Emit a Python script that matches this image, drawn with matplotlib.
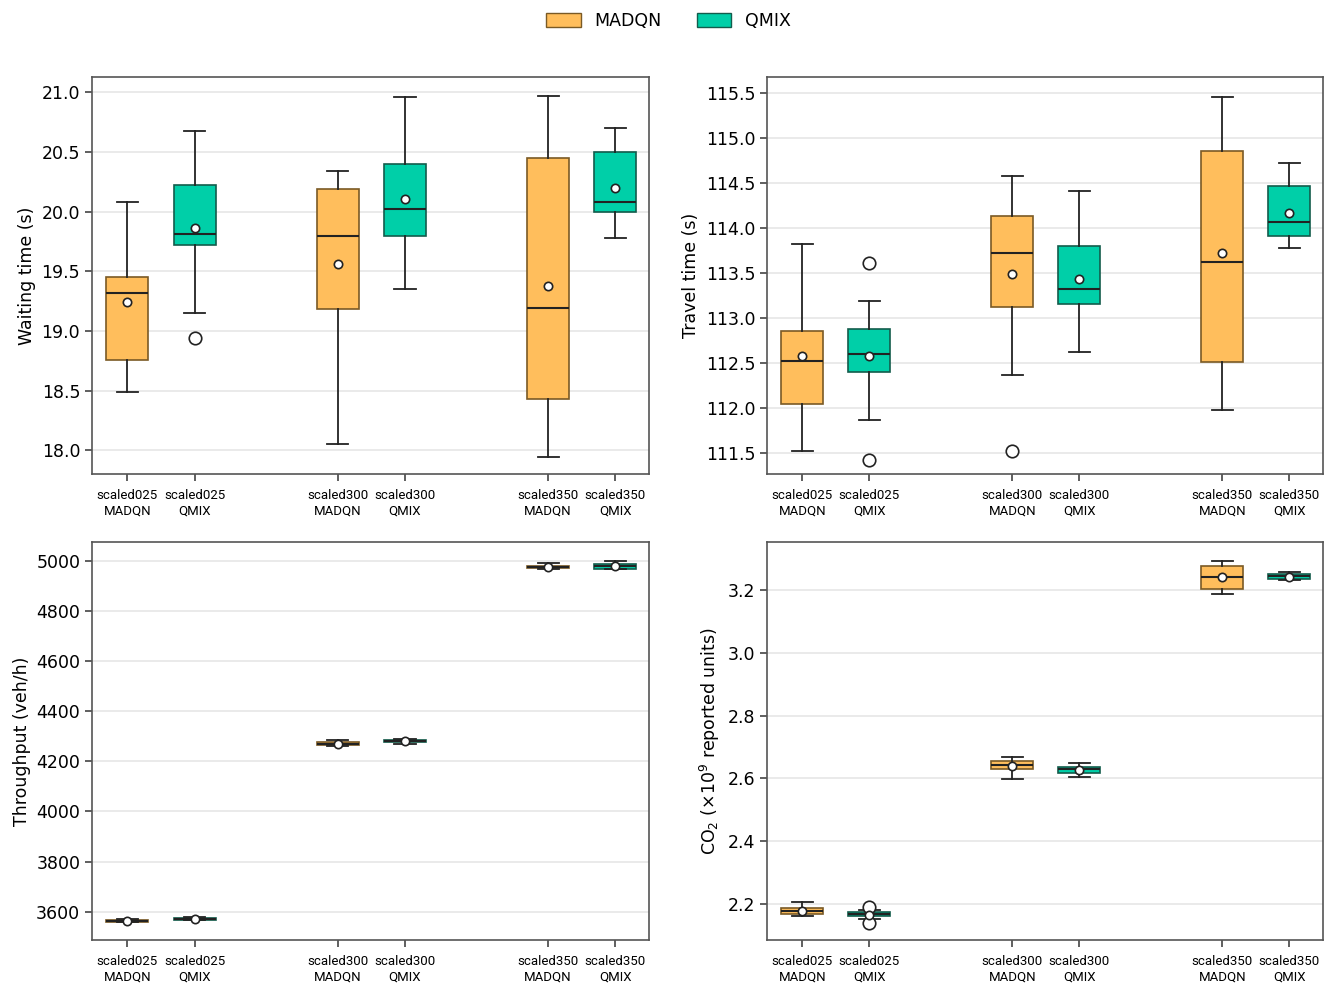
import numpy as np
import matplotlib
matplotlib.use("Agg")
import matplotlib.pyplot as plt
from matplotlib.patches import Patch

# box order: scaled025 MADQN, scaled025 QMIX, scaled300 MADQN, scaled300 QMIX, scaled350 MADQN, scaled350 QMIX
scenarios = ["scaled025", "scaled300", "scaled350"]
methods = ["MADQN", "QMIX"]

# waiting time (s)
wait_lo = [18.49, 19.15, 18.05, 19.35, 17.94, 19.78]
wait_q1 = [18.76, 19.72, 19.18, 19.80, 18.43, 20.00]
wait_med = [19.32, 19.81, 19.80, 20.02, 19.19, 20.08]
wait_q3 = [19.45, 20.22, 20.19, 20.40, 20.45, 20.50]
wait_hi = [20.08, 20.68, 20.34, 20.96, 20.97, 20.70]
wait_mean = [19.24, 19.86, 19.56, 20.11, 19.38, 20.20]
wait_fliers = [[], [18.94], [], [], [], []]

# travel time (s)
travel_lo = [111.53, 111.87, 112.37, 112.62, 111.98, 113.78]
travel_q1 = [112.05, 112.40, 113.13, 113.16, 112.51, 113.91]
travel_med = [112.53, 112.60, 113.73, 113.32, 113.62, 114.07]
travel_q3 = [112.86, 112.88, 114.14, 113.80, 114.86, 114.47]
travel_hi = [113.83, 113.19, 114.58, 114.41, 115.46, 114.73]
travel_mean = [112.58, 112.58, 113.49, 113.44, 113.72, 114.17]
travel_fliers = [[], [113.61, 111.43], [111.53], [], [], []]

# throughput (veh/h)
thr_lo = [3558, 3565, 4262, 4270, 4967, 4965]
thr_q1 = [3560, 3568, 4265, 4276, 4970, 4967]
thr_med = [3563, 3571, 4270, 4281, 4974, 4978]
thr_q3 = [3567, 3575, 4275, 4285, 4978, 4986]
thr_hi = [3570, 3578, 4283, 4290, 4990, 5000]
thr_mean = [3563, 3570, 4270, 4281, 4975, 4979]
thr_fliers = [[], [], [], [], [], []]

# CO2 (x1e9 reported units)
co2_lo = [2.160, 2.151, 2.598, 2.606, 3.189, 3.232]
co2_q1 = [2.167, 2.160, 2.630, 2.619, 3.205, 3.236]
co2_med = [2.176, 2.168, 2.644, 2.629, 3.242, 3.245]
co2_q3 = [2.186, 2.173, 2.656, 2.637, 3.276, 3.253]
co2_hi = [2.207, 2.181, 2.669, 2.648, 3.293, 3.257]
co2_mean = [2.179, 2.165, 2.641, 2.627, 3.241, 3.242]
co2_fliers = [[], [2.191, 2.139], [], [], [], []]

panels = [
    ("Waiting time (s)", (wait_lo, wait_q1, wait_med, wait_q3, wait_hi, wait_mean, wait_fliers),
     np.arange(18.0, 21.01, 0.5), "%.1f", (17.80, 21.13)),
    ("Travel time (s)", (travel_lo, travel_q1, travel_med, travel_q3, travel_hi, travel_mean, travel_fliers),
     np.arange(111.5, 115.51, 0.5), "%.1f", (111.27, 115.68)),
    ("Throughput (veh/h)", (thr_lo, thr_q1, thr_med, thr_q3, thr_hi, thr_mean, thr_fliers),
     np.arange(3600, 5001, 200), "%d", (3487, 5074)),
    (r"CO$_2$ ($\times10^9$ reported units)", (co2_lo, co2_q1, co2_med, co2_q3, co2_hi, co2_mean, co2_fliers),
     np.arange(2.2, 3.21, 0.2), "%.1f", (2.085, 3.354)),
]

fill_colors = ["#FFBE5C", "#00CFA8"]
edge_colors = ["#7a5a25", "#135c4c"]

positions = []
tick_labels = []
for g, sc in enumerate(scenarios):
    for k, m in enumerate(methods):
        positions.append(g * 2.5 + (k - 0.5) * 0.8)
        tick_labels.append(sc + "\n" + m)

fig = plt.figure(figsize=(13.37, 9.94), dpi=100)
W, H = 1337.0, 994.0
rects = [(92, 77, 649, 474), (767, 77, 1323, 474), (92, 542, 649, 940), (767, 542, 1323, 940)]

for (ylabel, data, yticks, fmt, ylim), (x0, y0, x1, y1) in zip(panels, rects):
    ax = fig.add_axes([x0 / W, 1 - y1 / H, (x1 - x0) / W, (y1 - y0) / H])
    lo, q1, med, q3, hi, mean, fliers = data
    stats = []
    for i in range(6):
        stats.append(dict(whislo=lo[i], q1=q1[i], med=med[i], q3=q3[i], whishi=hi[i],
                          mean=mean[i], fliers=fliers[i]))
    bp = ax.bxp(stats, positions=positions, widths=0.5, patch_artist=True, showmeans=True,
                medianprops=dict(color="#222222", linewidth=1.5),
                whiskerprops=dict(color="#222222", linewidth=1.3),
                capprops=dict(color="#222222", linewidth=1.3),
                meanprops=dict(marker="o", markerfacecolor="white", markeredgecolor="#222222",
                               markersize=6, markeredgewidth=1.2),
                flierprops=dict(marker="o", markerfacecolor="white", markeredgecolor="#222222",
                                markersize=9, markeredgewidth=1.2))
    for i, box in enumerate(bp["boxes"]):
        box.set_facecolor(fill_colors[i % 2])
        box.set_edgecolor(edge_colors[i % 2])
        box.set_linewidth(1.2)
    ax.set_xlim(-0.82, 5.8)
    ax.set_ylim(*ylim)
    ax.set_yticks(yticks)
    ax.set_yticklabels([fmt % v for v in yticks], fontsize=12.5)
    ax.set_xticks(positions)
    ax.set_xticklabels(tick_labels, fontsize=9.5, family="Roboto")
    ax.set_ylabel(ylabel, fontsize=12.5)
    ax.yaxis.grid(True, color="#e6e6e6", linewidth=1.2)
    ax.set_axisbelow(True)
    ax.tick_params(axis="both", length=5, width=1.2, color="#444444")
    ax.tick_params(axis="x", pad=6)
    for s in ax.spines.values():
        s.set_color("#555555")
        s.set_linewidth(1.2)

handles = [Patch(facecolor=fill_colors[k], edgecolor=edge_colors[k], label=methods[k]) for k in range(2)]
fig.legend(handles=handles, loc="center", bbox_to_anchor=(0.5, 1 - 21 / H), ncol=2, frameon=False,
           fontsize=12.5, handlelength=2.0, handleheight=0.9, columnspacing=2.0, handletextpad=0.8)

fig.savefig("out.png", dpi=100)
